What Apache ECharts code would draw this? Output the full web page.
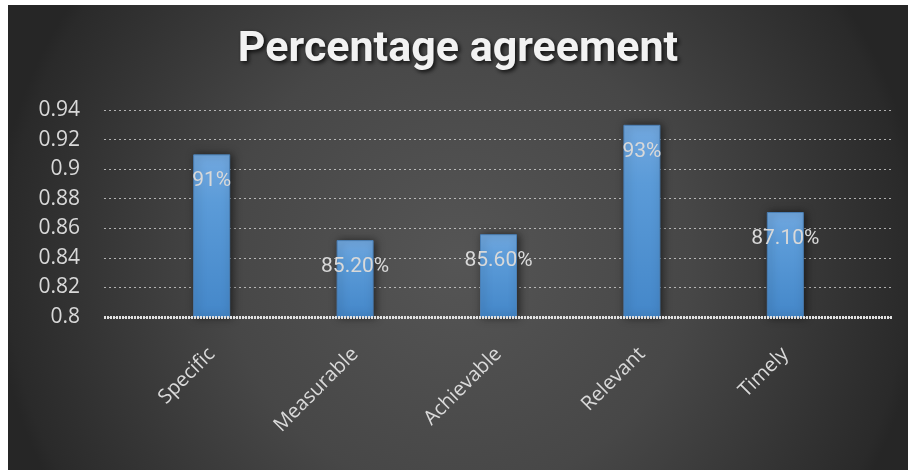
<!DOCTYPE html>
<html>
<head>
<meta charset="utf-8">
<script src="https://cdn.jsdelivr.net/npm/echarts@6/dist/echarts.min.js"></script>
<style>
html,body{margin:0;padding:0;background:#fff;width:908px;height:470px;overflow:hidden;}
#c{position:absolute;left:8px;top:5px;width:900px;height:465px;}
</style>
</head>
<body>
<div id="c"></div>
<script>
const categories = ['Specific', 'Measurable', 'Achievable', 'Relevant', 'Timely'];
const values = [0.91, 0.852, 0.856, 0.93, 0.871];
const valueLabels = ['91%', '85.20%', '85.60%', '93%', '87.10%'];
const yTicks = [0.8, 0.82, 0.84, 0.86, 0.88, 0.9, 0.92, 0.94];

const chart = echarts.init(document.getElementById('c'));
const yMin = yTicks[0], yMax = yTicks[yTicks.length - 1];
chart.setOption({
  backgroundColor: {
    type: 'radial', x: 0.5, y: 0.55, r: 1,
    colorStops: [
      {offset: 0, color: '#555555'},
      {offset: 0.5, color: '#474747'},
      {offset: 0.97, color: '#2a2a2a'},
      {offset: 1, color: '#262626'}
    ]
  },
  title: {
    text: 'Percentage agreement',
    left: 'center',
    top: 19,
    textStyle: {
      color: '#f2f2f2', fontSize: 43, fontWeight: 'bold',
      fontFamily: 'Liberation Sans Narrow, Roboto, sans-serif',
      textShadowColor: 'rgba(0,0,0,0.8)', textShadowBlur: 4, textShadowOffsetX: 2, textShadowOffsetY: 2
    }
  },
  grid: [
    {left: 96, right: 16, top: 105, bottom: 153},
    {left: 132, right: 51, top: 105, bottom: 153}
  ],
  xAxis: [
    {type: 'category', gridIndex: 0, data: [''], show: false},
    {
      type: 'category', gridIndex: 1, data: categories,
      axisLine: {show: false}, axisTick: {show: false},
      axisLabel: {
        rotate: 45, margin: 34, color: '#d9d9d9', fontSize: 20,
        fontFamily: 'Open Sans, Noto Sans, sans-serif'
      }
    }
  ],
  yAxis: [
    {
      type: 'value', gridIndex: 0, min: yMin, max: yMax, interval: 0.02,
      axisLine: {show: false}, axisTick: {show: false},
      axisLabel: {
        color: '#d9d9d9', fontSize: 21, margin: 24,
        fontFamily: 'Open Sans, Noto Sans, sans-serif',
        formatter: v => String(Math.round(v * 100) / 100)
      },
      splitLine: {
        show: true,
        lineStyle: {color: 'rgba(220,220,220,0.75)', width: 1, type: [2, 3]}
      }
    },
    {
      type: 'value', gridIndex: 1, min: yMin, max: yMax, interval: 0.02,
      show: false, splitLine: {show: false}
    }
  ],
  series: [
    {
      type: 'line', xAxisIndex: 0, yAxisIndex: 0, data: [], silent: true,
      markLine: {
        silent: true, symbol: 'none', label: {show: false},
        lineStyle: {color: '#e0e0e0', width: 3, type: [2, 1]},
        data: [{yAxis: yMin}]
      }
    },
    {
      type: 'bar', xAxisIndex: 1, yAxisIndex: 1, data: values, barWidth: 37,
      z: 3,
      itemStyle: {
        color: {
          type: 'linear', x: 0, y: 0, x2: 0, y2: 1,
          colorStops: [{offset: 0, color: '#72a8df'}, {offset: 0.3, color: '#5b9bd8'}, {offset: 1, color: '#4487c9'}]
        },
        borderColor: '#4a7fb5', borderWidth: 1,
        shadowColor: 'rgba(0,0,0,0.55)', shadowBlur: 8, shadowOffsetX: 2, shadowOffsetY: 0
      },
      label: {
        show: true, position: 'insideTop', distance: 16,
        color: '#d9d9d9', fontSize: 21,
        fontFamily: 'Roboto, sans-serif',
        formatter: p => valueLabels[p.dataIndex]
      }
    }
  ]
});
</script>
</body>
</html>
